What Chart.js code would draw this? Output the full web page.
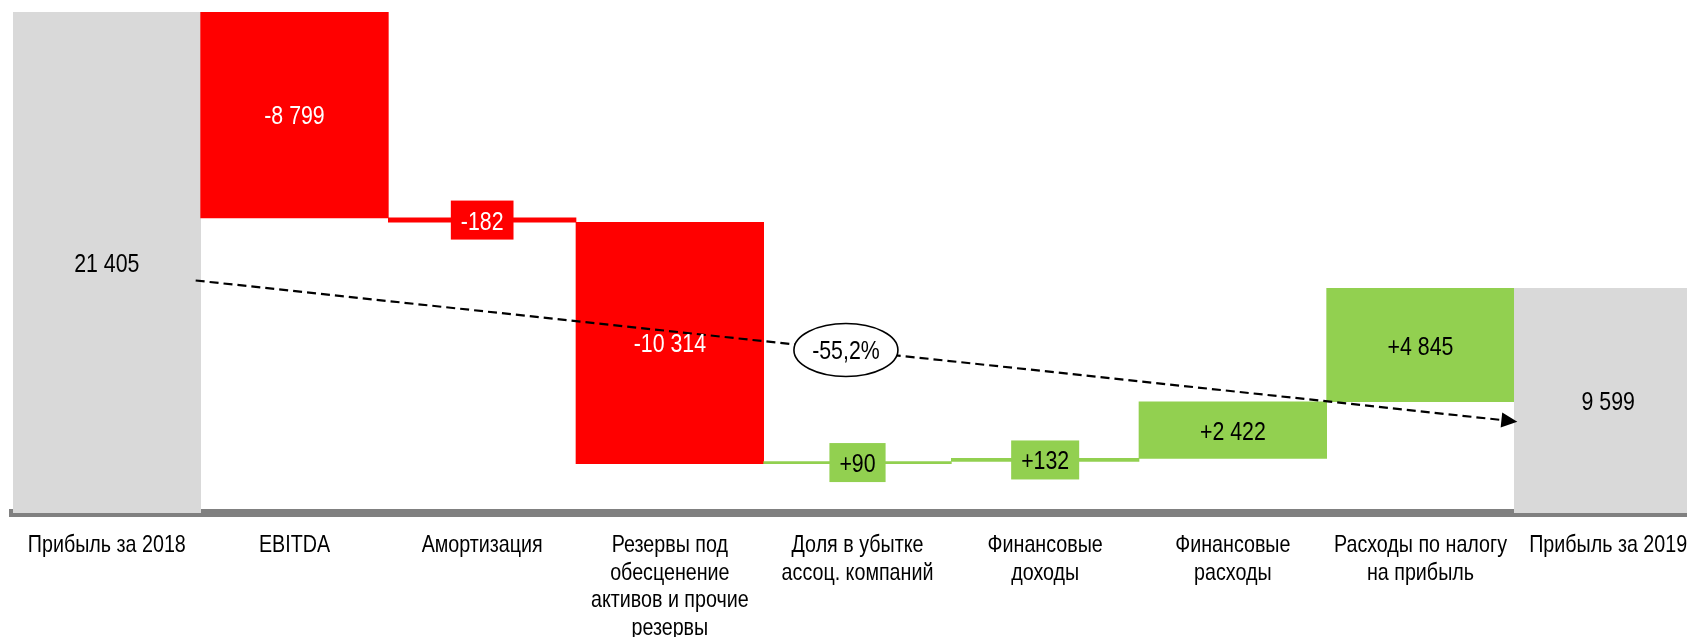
<!DOCTYPE html>
<html>
<head>
<meta charset="utf-8">
<script src="https://cdn.jsdelivr.net/npm/chart.js@4"></script>
<style>
  html, body { margin: 0; padding: 0; background: #fff; overflow: hidden; }
  #wrap { position: relative; width: 1702px; height: 637px; }
</style>
</head>
<body>
<div id="wrap"><canvas id="chart"></canvas></div>
<script>
// waterfall data
const categories = [
  ['Прибыль за 2018'],
  ['EBITDA'],
  ['Амортизация'],
  ['Резервы под', 'обесценение', 'активов и прочие', 'резервы'],
  ['Доля в убытке', 'ассоц. компаний'],
  ['Финансовые', 'доходы'],
  ['Финансовые', 'расходы'],
  ['Расходы по налогу', 'на прибыль'],
  ['Прибыль за 2019']
];
const changes = [21405, -8799, -182, -10314, 90, 132, 2422, 4845, 9599];
const kinds = ['total', 'delta', 'delta', 'delta', 'delta', 'delta', 'delta', 'delta', 'total'];
const valueLabels = ['21 405', '-8 799', '-182', '-10 314', '+90', '+132', '+2 422', '+4 845', '9 599'];
const totalChange = '-55,2%';

const FONT = '"Liberation Sans", Arial, sans-serif';
const NARROW = 0.82; // Arial Narrow look: squeeze Arial metrics horizontally
const GRAY = '#D9D9D9', RED = '#FF0000', GREEN = '#92D050';

// build floating bars from the running total
let run = 0;
const ranges = changes.map((v, i) => {
  if (kinds[i] === 'total') { run = v; return [0, v]; }
  const r = [run, run + v];
  run += v;
  return r;
});
const colors = changes.map((v, i) => kinds[i] === 'total' ? GRAY : (v < 0 ? RED : GREEN));

function narrowText(ctx, txt, x, y, size, color) {
  ctx.save();
  ctx.translate(x, y);
  ctx.scale(NARROW, 1);
  ctx.font = size + 'px ' + FONT;
  ctx.textAlign = 'center';
  ctx.textBaseline = 'alphabetic';
  ctx.fillStyle = color;
  ctx.fillText(txt, 0, 0);
  ctx.restore();
}
function narrowWidth(ctx, txt, size) {
  ctx.save();
  ctx.font = size + 'px ' + FONT;
  const w = ctx.measureText(txt).width * NARROW;
  ctx.restore();
  return w;
}

const decor = {
  id: 'decor',
  afterDatasetsDraw(chart) {
    const ctx = chart.ctx;
    const meta = chart.getDatasetMeta(0);
    const xs = chart.scales.x, ys = chart.scales.y;
    const first = meta.data[0], last = meta.data[meta.data.length - 1];

    // dashed trend arrow between the two totals
    const x1 = first.x + first.width / 2 - 5;
    const y1 = ys.getPixelForValue(changes[0] / 2) + 18;
    const x2 = last.x - last.width / 2 + 3;
    const y2 = ys.getPixelForValue(changes[8] / 2) + 21;
    ctx.save();
    ctx.strokeStyle = '#000';
    ctx.lineWidth = 2.2;
    ctx.setLineDash([9, 5]);
    ctx.beginPath();
    ctx.moveTo(x1, y1);
    ctx.lineTo(x2 - 14, y2 - 14 * (y2 - y1) / (x2 - x1));
    ctx.stroke();
    ctx.setLineDash([]);
    const ang = Math.atan2(y2 - y1, x2 - x1);
    ctx.translate(x2, y2);
    ctx.rotate(ang);
    ctx.fillStyle = '#000';
    ctx.beginPath();
    ctx.moveTo(0, 0);
    ctx.lineTo(-16, -7.5);
    ctx.lineTo(-16, 7.5);
    ctx.closePath();
    ctx.fill();
    ctx.restore();

    // ellipse with the total change, a bit left of the middle of the arrow
    const t = 0.492;
    const cx = x1 + (x2 - x1) * t, cy = y1 + (y2 - y1) * t;
    ctx.save();
    ctx.beginPath();
    ctx.ellipse(cx, cy, 52, 26.5, 0, 0, Math.PI * 2);
    ctx.fillStyle = '#fff';
    ctx.fill();
    ctx.lineWidth = 1.6;
    ctx.strokeStyle = '#000';
    ctx.stroke();
    ctx.restore();
    narrowText(ctx, totalChange, cx, cy + 9.5, 26, '#000');

    // value labels
    meta.data.forEach((bar, i) => {
      const top = Math.min(bar.y, bar.base), bot = Math.max(bar.y, bar.base);
      const my = (top + bot) / 2;
      const txt = valueLabels[i];
      const neg = kinds[i] === 'delta' && changes[i] < 0;
      if (bot - top < 30) {
        const w = narrowWidth(ctx, txt, 26) + 20;
        ctx.fillStyle = colors[i];
        ctx.fillRect(bar.x - w / 2, my - 19.5, w, 39);
      }
      narrowText(ctx, txt, bar.x, my + 9.5, 26, neg ? '#fff' : '#000');
    });

    // category labels under the axis
    categories.forEach((lines, i) => {
      const x = xs.getPixelForValue(i);
      lines.forEach((ln, k) => {
        narrowText(ctx, ln, x, xs.bottom - 124 + 39 + k * 27.5, 24, '#000');
      });
    });
  }
};

new Chart(document.getElementById('chart'), {
  type: 'bar',
  data: {
    labels: categories,
    datasets: [{
      data: ranges,
      backgroundColor: colors,
      borderWidth: 0,
      barPercentage: 1,
      categoryPercentage: 1
    }]
  },
  options: {
    responsive: true,
    maintainAspectRatio: false,
    animation: false,
    layout: { padding: { left: 13, top: 12, right: 0, bottom: 0 } },
    plugins: { legend: { display: false }, tooltip: { enabled: false } },
    scales: {
      x: {
        grid: { display: false, drawTicks: false },
        border: { display: true, color: '#808080', width: 8 },
        ticks: { display: false },
        afterFit(scale) { scale.height = 124; }
      },
      y: {
        display: false,
        min: 0,
        max: 21405
      }
    }
  },
  plugins: [decor]
});
</script>
</body>
</html>
